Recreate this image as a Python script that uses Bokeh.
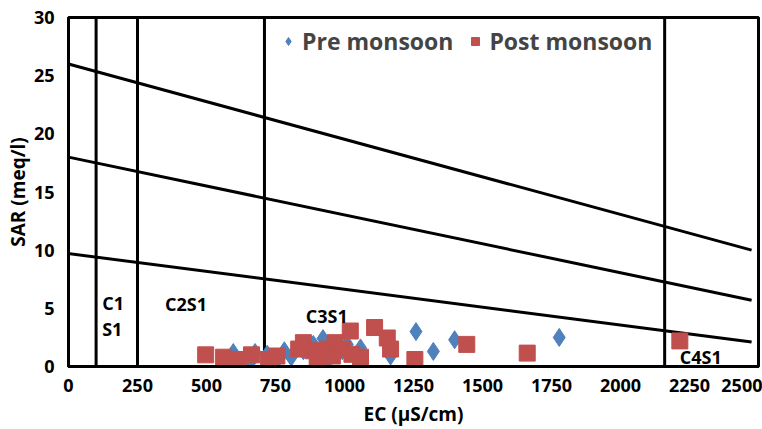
from bokeh.plotting import figure
from bokeh.models import Range1d, Legend, LegendItem, Label, FixedTicker
from bokeh.embed import file_html
from bokeh.resources import INLINE

# Data
pre_ec = [562, 597, 623, 658, 676, 720, 746, 782, 807, 851, 887, 922, 943, 974, 992, 1010, 1058, 1167, 1259, 1322, 1399, 1778]
pre_sar = [0.2, 1.2, 0.5, 0.35, 1.2, 1.05, 0.2, 1.35, 0.8, 1.35, 1.9, 2.4, 0.6, 1.05, 1.35, 1.9, 1.6, 0.9, 3.0, 1.3, 2.3, 2.5]

post_ec = [497, 562, 615, 663, 725, 755, 834, 851, 887, 901, 913, 939, 956, 966, 992, 1021, 1027, 1058, 1109, 1155, 1167, 1255, 1443, 1662, 2215]
post_sar = [1.0, 0.8, 0.6, 1.0, 0.6, 0.9, 1.5, 2.05, 1.35, 0.6, 0.9, 1.5, 0.9, 2.05, 1.5, 3.05, 1.05, 0.8, 3.35, 2.45, 1.5, 0.6, 1.9, 1.15, 2.2]

# Boundary lines of the classification diagram
vline_ec = [100, 250, 710, 2160]
slope_x0 = [0, 0, -30]
slope_y0 = [26.0, 18.0, 9.8]
slope_x1 = [2475, 2475, 2475]
slope_y1 = [10.0, 5.7, 2.1]

zone_labels = ["C1", "S1", "C2S1", "C3S1", "C4S1"]
zone_x = [122, 122, 350, 860, 2215]
zone_y = [5.5, 3.2, 5.4, 4.3, 0.85]

x_ticks = [0, 250, 500, 750, 1000, 1250, 1500, 1750, 2000, 2250, 2500]
y_ticks = [0, 5, 10, 15, 20, 25, 30]

FONT = "Open Sans"

p = figure(width=762, height=429, output_backend="svg", toolbar_location=None,
           x_range=Range1d(0, 2500), y_range=Range1d(0, 30),
           min_border_left=68, min_border_right=4, min_border_top=17, min_border_bottom=62)
p.grid.visible = False
p.outline_line_color = "black"
p.outline_line_width = 3
p.background_fill_color = "white"
p.border_fill_color = "white"

for ax in (p.xaxis[0], p.yaxis[0]):
    ax.major_tick_line_color = None
    ax.minor_tick_line_color = None
    ax.axis_line_color = "black"
    ax.axis_line_width = 3
    ax.major_label_text_font = FONT
    ax.major_label_text_font_style = "bold"
    ax.major_label_text_font_size = "18px"
    ax.major_label_text_color = "black"
    ax.axis_label_text_font = FONT
    ax.axis_label_text_font_style = "bold"
    ax.axis_label_text_font_size = "19px"
    ax.axis_label_text_color = "black"

p.xaxis.ticker = FixedTicker(ticks=x_ticks)
p.yaxis.ticker = FixedTicker(ticks=y_ticks)
p.xaxis.axis_label = "EC (µS/cm)"
p.yaxis.axis_label = "SAR (meq/l)"
p.xaxis.major_label_standoff = 6
p.xaxis.axis_label_standoff = 6
p.yaxis.major_label_standoff = 8
p.yaxis.axis_label_standoff = 0

for xv in vline_ec:
    p.line([xv, xv], [0, 30], line_color="black", line_width=3)

for a, b, c, d in zip(slope_x0, slope_y0, slope_x1, slope_y1):
    p.line([a, c], [b, d], line_color="black", line_width=3)

r_pre = p.scatter(pre_ec, pre_sar, marker="diamond", size=18, fill_color="#4F81BD", line_color="#4F81BD")
r_post = p.scatter(post_ec, post_sar, marker="square", size=16, fill_color="#C0504D", line_color="#C0504D")

for t, xv, yv in zip(zone_labels, zone_x, zone_y):
    p.add_layout(Label(x=xv, y=yv, text=t, text_font=FONT, text_font_style="bold",
                       text_font_size="18px", text_color="black", text_baseline="middle"))

legend = Legend(items=[LegendItem(label="Pre monsoon", renderers=[r_pre]),
                       LegendItem(label="Post monsoon", renderers=[r_post])],
                orientation="horizontal", location=(210, 309),
                border_line_color=None, background_fill_alpha=0,
                label_text_font=FONT, label_text_font_style="bold", label_text_font_size="23px",
                glyph_width=20, glyph_height=20, spacing=12, label_standoff=4, padding=2, margin=0)
p.add_layout(legend)

open("out.html", "w").write(file_html(p, INLINE))
